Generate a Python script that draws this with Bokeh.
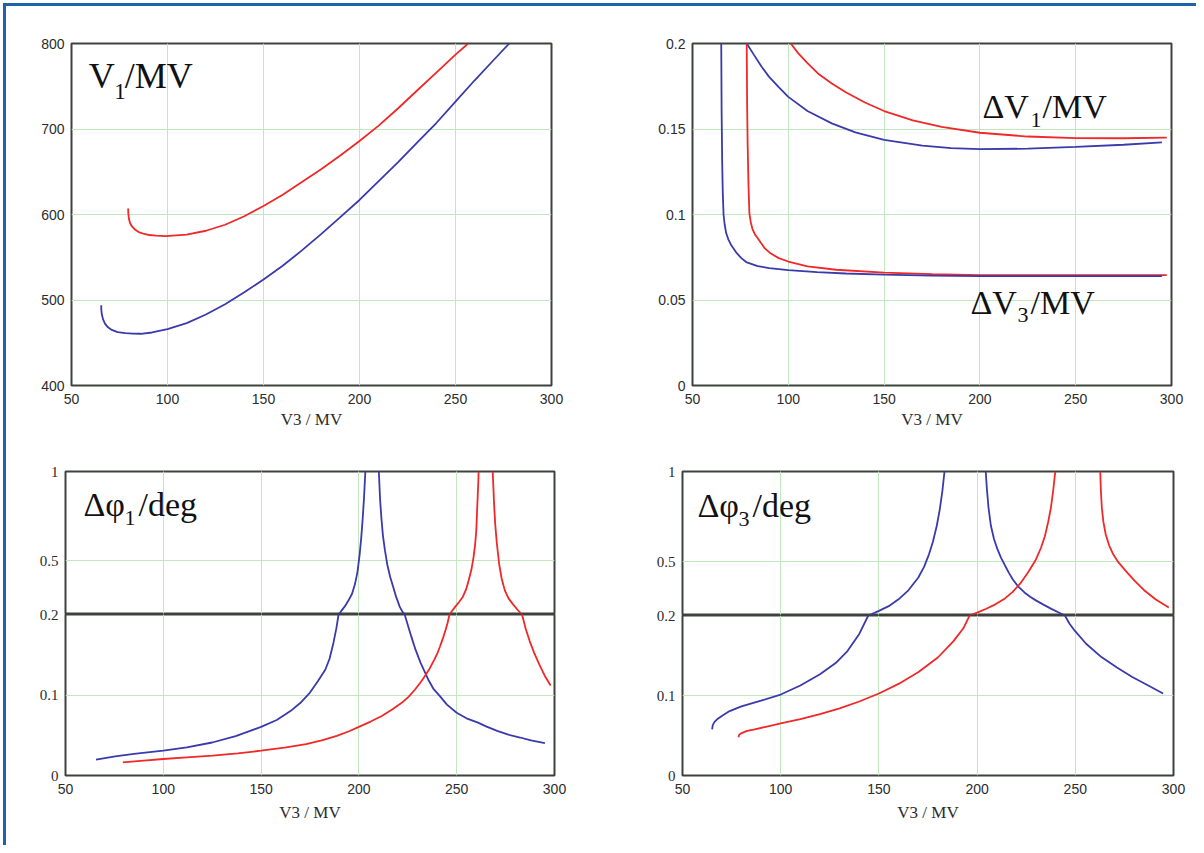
from bokeh.plotting import figure
from bokeh.layouts import column, row
from bokeh.models import Range1d, FixedTicker, Label, Grid, NumeralTickFormatter
from bokeh.embed import file_html
from bokeh.resources import INLINE

NaN = float("nan")

# ---------------- data ----------------
X_TICKS = [50, 100, 150, 200, 250, 300]
X_LABEL = "V3 / MV"

# Panel 1: V1 / MV
v1_red_x = [79.5, 79.6, 79.9, 80.5, 81.5, 83, 85, 87.5, 90.5, 94, 99, 110, 120, 130, 140, 150, 160, 170, 180, 190, 200, 210, 220, 230, 240, 250, 256.6]
v1_red_y = [607, 601, 595, 590, 586, 582.5, 579.5, 577.5, 576, 575.2, 574.8, 576.5, 581, 588, 598, 610, 623, 638, 653, 669, 686, 704, 724, 745, 766, 787, 800]
v1_blue_x = [65.5, 65.5, 65.8, 66.5, 67.5, 69, 71, 74, 78, 82, 86, 92, 100, 110, 120, 130, 140, 150, 160, 170, 180, 190, 200, 210, 220, 230, 240, 250, 260, 270, 278]
v1_blue_y = [494, 489, 483, 477, 472, 468, 465, 462.5, 461.2, 460.6, 460.5, 462, 466, 473, 483, 495, 509, 524, 540, 558, 577, 597, 617, 639, 661, 684, 707, 732, 757, 781, 800]
v1_y_ticks = [400, 500, 600, 700, 800]

# Panel 2: dV1 / MV and dV3 / MV
dv1_red_x = [101.3, 105, 110, 116, 122.7, 130, 140, 150, 165, 180, 200, 225, 250, 275, 297.5]
dv1_red_y = [0.2, 0.1945, 0.1885, 0.182, 0.1766, 0.1715, 0.1655, 0.1605, 0.155, 0.1513, 0.1478, 0.1456, 0.1447, 0.1446, 0.1449]
dv1_blue_x = [78.3, 82, 86, 90, 95, 100, 110, 122.7, 135, 150, 170, 185, 200, 225, 250, 275, 295]
dv1_blue_y = [0.2, 0.1935, 0.1865, 0.1805, 0.1745, 0.1688, 0.1605, 0.1533, 0.148, 0.1437, 0.1403, 0.1388, 0.1382, 0.1385, 0.1396, 0.1408, 0.1422]
dv3_red_x = [78.3, 78.5, 78.8, 79.2, 79.7, 80.4, 81.3, 82.8, 84.7, 87.5, 90.7, 95, 100, 110, 125, 150, 175, 200, 250, 297.5]
dv3_red_y = [0.2, 0.165, 0.14, 0.118, 0.1007, 0.0955, 0.0915, 0.088, 0.0851, 0.0805, 0.0773, 0.0745, 0.0725, 0.0697, 0.0677, 0.066, 0.0651, 0.0646, 0.0645, 0.0645]
dv3_blue_x = [65.0, 65.2, 65.5, 65.8, 66.2, 66.8, 67.6, 68.7, 70, 71.5, 73, 75.5, 78, 84, 90, 100, 115, 130, 150, 175, 200, 250, 295]
dv3_blue_y = [0.2, 0.16, 0.13, 0.113, 0.1, 0.094, 0.089, 0.0855, 0.0825, 0.08, 0.0775, 0.0745, 0.0722, 0.0698, 0.0687, 0.0675, 0.0663, 0.0655, 0.0648, 0.0643, 0.064, 0.064, 0.064]
dv_y_ticks = [0, 0.05, 0.1, 0.15, 0.2]

# Panel 3: dphi1 / deg  (split axis: 0-0.2 below, 0.2-1 above)
phi1_blue_x = [65.6, 75.4, 85, 100, 112, 125, 137, 150, 158, 165, 170, 175, 179, 182.8, 185, 187, 188.5, 189.6,
               191, 192.6, 194.5, 196.5, 198, 199.3, 200.4, 201.2, 201.9, 202.6, 203.3, NaN,
               210.2, 210.8, 211.5, 212.3, 213.3, 214.5, 216, 217.5, 219, 220.9, 222.3, 223.4,
               225, 226.8, 229, 231.6, 235.5, 238, 241.4, 245, 250, 255, 260.9, 265, 270.7, 276, 282.4, 288, 295.1]
phi1_blue_y = [0.0197, 0.0238, 0.0268, 0.0308, 0.035, 0.041, 0.049, 0.0604, 0.069, 0.08, 0.09, 0.103, 0.117, 0.1314, 0.145, 0.165, 0.183, 0.2,
               0.22, 0.2425, 0.275, 0.316, 0.37, 0.44, 0.538, 0.63, 0.73, 0.85, 1.0, NaN,
               1.0, 0.85, 0.74, 0.64, 0.56, 0.48, 0.41, 0.355, 0.3, 0.2425, 0.215, 0.2,
               0.187, 0.1725, 0.156, 0.1396, 0.119, 0.108, 0.0986, 0.088, 0.078, 0.071, 0.0657, 0.061, 0.0554, 0.051, 0.0472, 0.0435, 0.0402]
phi1_red_x = [79.3, 90, 100, 112, 125.2, 138, 150, 162, 173, 181, 188.7, 195, 200, 206, 211.7, 217, 221.9, 225.5, 228.7, 231.3, 233.6,
              236.2, 238.5, 240, 241.4, 242.9, 244.3, 245.4, 246.3,
              247.8, 249.2, 251.2, 253.1, 254.8, 256.1, 257.5, 258.6, 259.4, 260, 260.5, 261, 261.2, NaN,
              268.4, 268.8, 269.1, 269.7, 270.5, 271.7, 273, 274.6, 276.5, 278.5, 281, 283.4,
              285.2, 287.3, 289.5, 292.2, 295, 298]
phi1_red_y = [0.0164, 0.0185, 0.0205, 0.0225, 0.0246, 0.0275, 0.0308, 0.0345, 0.039, 0.0435, 0.0493, 0.055, 0.0604, 0.067, 0.0739, 0.082, 0.0903, 0.098, 0.1068, 0.115, 0.123,
              0.133, 0.1437, 0.151, 0.16, 0.17, 0.1807, 0.19, 0.2,
              0.222, 0.2425, 0.27, 0.298, 0.34, 0.39, 0.45, 0.52, 0.59, 0.667, 0.8, 0.93, 1.0, NaN,
              1.0, 0.9, 0.82, 0.704, 0.6, 0.483, 0.4, 0.335, 0.29, 0.261, 0.228, 0.2,
              0.183, 0.167, 0.153, 0.138, 0.124, 0.1117]

# Panel 4: dphi3 / deg
phi3_blue_x = [65.1, 65.4, 66.3, 68, 70, 74, 80, 90, 100, 110, 120, 128, 134, 140, 144.6,
               150, 155, 160, 165, 170, 173, 175.5, 177.5, 179.5, 181, 182.3, 183.4, NaN,
               204.4, 205, 205.8, 207, 208.6, 210.3, 212.2, 214.2, 216.2, 218.2, 221, 224.1, 227, 229.9, 234, 237.8, 241.3, 244.7,
               247, 249.6, 255.5, 263.3, 271.2, 279, 286.9, 294.7]
phi3_blue_y = [0.0577, 0.063, 0.067, 0.071, 0.0745, 0.0805, 0.0865, 0.0935, 0.1012, 0.1125, 0.1265, 0.1405, 0.1555, 0.177, 0.2,
               0.226, 0.252, 0.29, 0.34, 0.41, 0.47, 0.54, 0.61, 0.7, 0.79, 0.89, 1.0, NaN,
               1.0, 0.9, 0.8, 0.7, 0.625, 0.57, 0.52, 0.478, 0.437, 0.4, 0.36, 0.328, 0.304, 0.284, 0.259, 0.237, 0.218, 0.2,
               0.19, 0.1813, 0.1647, 0.148, 0.1349, 0.1232, 0.1129, 0.1025]
phi3_red_x = [78.5, 78.9, 79.8, 82.5, 86.7, 93, 100, 110, 120, 130, 140, 150, 160, 170, 180, 188, 193, 196.2,
              200, 204.4, 209.3, 214.2, 218, 222, 226, 229.9, 232.5, 234.5, 236.2, 237.6, 238.8, 239.8, NaN,
              262.7, 263, 263.5, 264.3, 265.5, 267.2, 269.3, 272, 275.1, 280, 284.9, 290.8, 297.6]
phi3_red_y = [0.0477, 0.051, 0.0527, 0.0555, 0.0577, 0.0612, 0.0651, 0.0705, 0.0768, 0.084, 0.0925, 0.1025, 0.1145, 0.129, 0.1475, 0.168, 0.184, 0.2,
              0.216, 0.236, 0.262, 0.295, 0.33, 0.378, 0.44, 0.51, 0.575, 0.64, 0.72, 0.8, 0.9, 1.0, NaN,
              1.0, 0.9, 0.8, 0.72, 0.65, 0.59, 0.54, 0.495, 0.455, 0.395, 0.342, 0.29, 0.244]
phi_upper_ticks = [0.5, 1]
phi_lower_ticks = [0, 0.1, 0.2]

# ---------------- style ----------------
RED = "#f02828"
BLUE = "#3a3aac"
GRID = "#c2e6be"
FRAME = "#3c423c"
TXT = "#2c2c2c"
SANS = "Liberation Sans"
SERIF = "Liberation Serif"
LW = 1.8


def make_fig(w, h, ml, mr, mt, mb, yr, x_axis=True):
    p = figure(width=w, height=h, x_range=Range1d(50, 300), y_range=Range1d(*yr),
               output_backend="svg", toolbar_location=None,
               x_axis_location="below" if x_axis else None,
               min_border_left=ml, min_border_right=mr, min_border_top=mt, min_border_bottom=mb)
    p.outline_line_color = FRAME
    p.outline_line_width = 2
    p.outline_line_alpha = 1
    p.background_fill_color = "white"
    p.border_fill_color = "white"
    if not x_axis:
        g = Grid(dimension=0, ticker=FixedTicker(ticks=X_TICKS), grid_line_color=GRID, grid_line_width=1)
        p.add_layout(g)
    return p


def style_axis(ax, font, size, standoff):
    ax.axis_line_color = None
    ax.major_tick_line_color = None
    ax.minor_tick_line_color = None
    ax.major_tick_out = 0
    ax.major_tick_in = 0
    ax.major_label_text_font = font
    ax.major_label_text_font_size = size
    ax.major_label_text_color = TXT
    ax.major_label_standoff = standoff


def style_x(p, label_standoff):
    ax = p.xaxis[0]
    ax.ticker = FixedTicker(ticks=X_TICKS)
    style_axis(ax, SANS, "14px", 8)
    ax.axis_label = X_LABEL
    ax.axis_label_text_font = SERIF
    ax.axis_label_text_font_size = "17px"
    ax.axis_label_text_font_style = "normal"
    ax.axis_label_text_color = TXT
    ax.axis_label_standoff = label_standoff
    p.xgrid.grid_line_color = GRID
    p.xgrid.grid_line_width = 1


def style_y(p, ticks, font, fmt="0.[00]", size="14px"):
    ax = p.yaxis[0]
    ax.ticker = FixedTicker(ticks=ticks)
    ax.formatter = NumeralTickFormatter(format=fmt)
    style_axis(ax, font, size, 7)
    p.ygrid.grid_line_color = GRID
    p.ygrid.grid_line_width = 1


def title(p, frame, pieces):
    # frame = (left_px, right_px, top_px, bottom_px, ymax, ymin): converts page pixels to data units
    l, r, t, b, ymax, ymin = frame
    for (px, py, text, size) in pieces:
        x = 50 + (px - l) / (r - l) * 250
        y = ymax - (py - t) / (b - t) * (ymax - ymin)
        p.add_layout(Label(x=x, y=y, text=text, text_font=SERIF, text_font_size=f"{size}px",
                           text_color="#111111", text_baseline="middle", text_align="left"))


# ---------------- panel 1 ----------------
p1 = make_fig(614, 434, 65, 69, 37, 55, (400, 800))
style_x(p1, 3)
style_y(p1, v1_y_ticks, SANS, "0")
p1.line(v1_red_x, v1_red_y, line_color=RED, line_width=LW)
p1.line(v1_blue_x, v1_blue_y, line_color=BLUE, line_width=LW)
title(p1, (70.7, 550.7, 43.3, 385, 800, 400),
      [(88, 76, "V", 36), (113.5, 91, "1", 23), (124, 76, "/MV", 36)])

# ---------------- panel 2 ----------------
p2 = make_fig(576, 434, 72, 25, 37, 55, (0, 0.2))
style_x(p2, 3)
style_y(p2, dv_y_ticks, SANS)
p2.line(dv1_red_x, dv1_red_y, line_color=RED, line_width=LW)
p2.line(dv1_blue_x, dv1_blue_y, line_color=BLUE, line_width=LW)
p2.line(dv3_red_x, dv3_red_y, line_color=RED, line_width=LW)
p2.line(dv3_blue_x, dv3_blue_y, line_color=BLUE, line_width=LW)
fr2 = (692, 1171, 43.3, 385, 0.2, 0)
title(p2, fr2, [(982, 106, "ΔV", 34), (1030, 120, "1", 22), (1042, 106, "/MV", 34),
                (970, 302, "ΔV", 34), (1017, 315, "3", 22), (1030, 302, "/MV", 34)])


# ---------------- panels 3 & 4 (split y axis) ----------------
OVER = 8


def split_panel(w, ml, mr, up_h_frame, low_h_frame, bx, by, rx, ry, lbl, frame_px):
    pu = make_fig(w, 31 + up_h_frame, ml, mr, 31, 0, (0.2, 1), x_axis=False)
    style_y(pu, phi_upper_ticks, SERIF, "0.[0]", "15px")
    pl = make_fig(w, OVER + low_h_frame + 70, ml, mr, OVER, 70, (0, 0.2))
    pl.border_fill_color = None
    pl.margin = (-OVER, 0, 0, 0)
    style_x(pl, 6)
    style_y(pl, phi_lower_ticks, SERIF, "0.[0]", "15px")
    for p in (pu, pl):
        p.line(bx, by, line_color=BLUE, line_width=LW)
        p.line(rx, ry, line_color=RED, line_width=LW)
    title(pu, frame_px, lbl)
    return column(pu, pl, spacing=0)


c3 = split_panel(614, 59, 66, 143, 161, phi1_blue_x, phi1_blue_y, phi1_red_x, phi1_red_y,
                 [(83, 504, "Δφ", 34), (124, 517, "1", 22), (138, 504, "/deg", 34)],
                 (65, 554, 471, 614, 1, 0.2))
c4 = split_panel(576, 62, 23, 144, 160, phi3_blue_x, phi3_blue_y, phi3_red_x, phi3_red_y,
                 [(697, 505, "Δφ", 34), (738, 518, "3", 22), (752, 505, "/deg", 34)],
                 (682, 1173, 471, 615, 1, 0.2))

layout = column(row(p1, p2, spacing=0), row(c3, c4, spacing=0), spacing=0,
                margin=(3, 0, 0, 3),
                styles={"border-top": "3px solid #1f62ac", "border-left": "3px solid #1f62ac"})

open("out.html", "w").write(file_html(layout, INLINE))
